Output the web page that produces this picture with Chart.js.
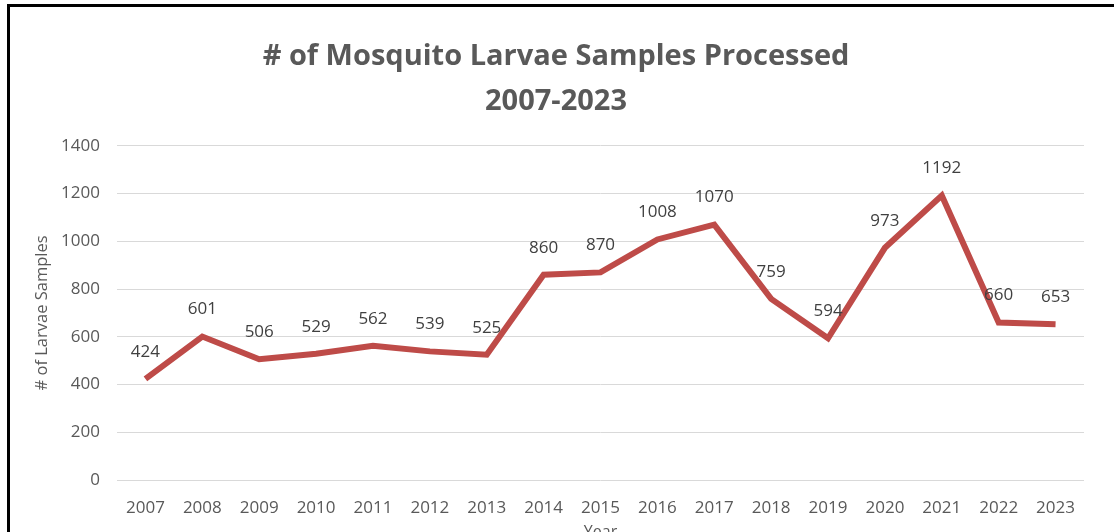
<!DOCTYPE html>
<html>
<head>
<meta charset="utf-8">
<script src="https://cdn.jsdelivr.net/npm/chart.js@4"></script>
<style>
  html, body { margin: 0; padding: 0; background: #fff; }
  .frame {
    position: absolute; left: 7px; top: 4px; width: 1120px; height: 540px;
    border-top: 3px solid #000; border-left: 3px solid #000;
  }
  .wrap { position: absolute; left: 0; top: 0; width: 1114px; height: 532px; overflow: hidden; }
</style>
</head>
<body>
<div class="wrap">
  <div class="frame"></div>
  <canvas id="chart" width="1114" height="532" style="position:absolute;left:0;top:0"></canvas>
</div>
<script>
const years = ['2007', '2008', '2009', '2010', '2011', '2012', '2013', '2014', '2015',
  '2016', '2017', '2018', '2019', '2020', '2021', '2022', '2023']
const samples = [424, 601, 506, 529, 562, 539, 525, 860, 870, 1008, 1070, 759, 594, 973, 1192, 660, 653]
const titleLines = ['# of Mosquito Larvae Samples Processed', '2007-2023']

const fontName = "'Open Sans', 'Noto Sans', sans-serif"

// Value labels drawn above each point.
const pointLabels = {
  id: 'pointLabels',
  afterDatasetsDraw(chart) {
    const ctx = chart.ctx
    const meta = chart.getDatasetMeta(0)
    ctx.save()
    ctx.font = `17px ${fontName}`
    ctx.fillStyle = '#404040'
    ctx.textAlign = 'center'
    ctx.textBaseline = 'middle'
    meta.data.forEach((pt, i) => {
      ctx.fillText(String(samples[i]), pt.x, pt.y - 27)
    })
    ctx.restore()
  }
}

Chart.defaults.font.family = fontName

const myChart = new Chart(document.getElementById('chart'), {
  type: 'line',
  data: {
    labels: years,
    datasets: [{
      data: samples,
      borderColor: '#BE4B48',
      borderWidth: 6,
      pointRadius: 0,
      tension: 0,
      borderJoinStyle: 'miter'
    }]
  },
  options: {
    responsive: false,
    animation: false,
    layout: { padding: { left: 28, right: 30, top: 22, bottom: -14 } },
    plugins: {
      legend: { display: false },
      tooltip: { enabled: false },
      title: {
        display: true,
        text: titleLines,
        color: '#595959',
        font: { size: 29, weight: 'bold', lineHeight: 1.55 },
        padding: { top: 12, bottom: 22 }
      }
    },
    scales: {
      x: {
        offset: true,
        grid: { display: false },
        border: { display: false },
        ticks: { color: '#595959', font: { size: 17 }, padding: 10, maxRotation: 0 },
        title: { display: true, text: 'Year', color: '#595959', font: { size: 16 } },
        afterFit(scale) { scale.height = 66 }
      },
      y: {
        min: 0,
        max: 1400,
        ticks: {
          stepSize: 200, color: '#595959', font: { size: 17 }, padding: 17,
          callback: v => String(v)
        },
        grid: { color: '#d9d9d9', lineWidth: 1, drawTicks: false },
        border: { display: false },
        title: { display: true, text: '# of Larvae Samples', color: '#595959', font: { size: 16.5 } },
        afterFit(scale) { scale.width = 89 }
      }
    }
  },
  plugins: [pointLabels]
})
</script>
</body>
</html>
